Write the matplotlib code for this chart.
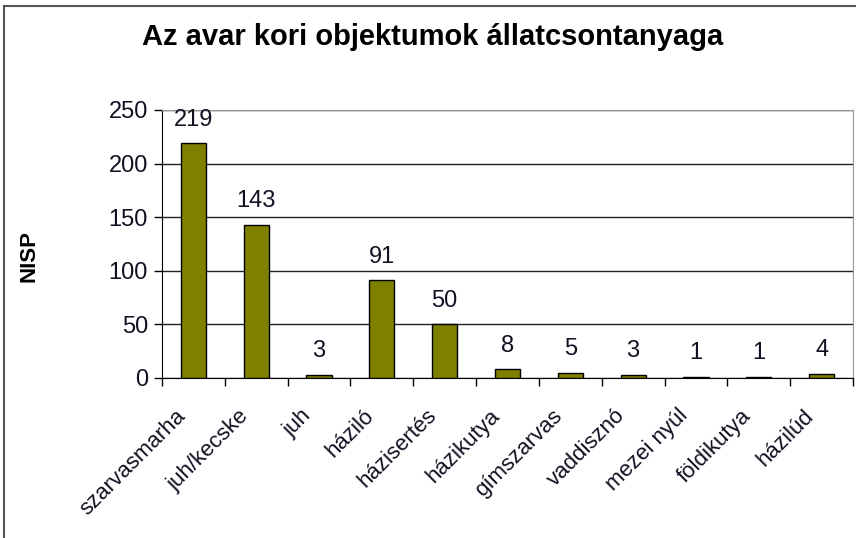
import matplotlib.pyplot as plt
import matplotlib.transforms as mtransforms
import numpy as np

plt.rcParams['font.family'] = ['Liberation Sans', 'DejaVu Sans']

species = ['szarvasmarha', 'juh/kecske', 'juh', 'háziló', 'házisertés',
           'házikutya', 'gímszarvas', 'vaddisznó', 'mezei nyúl',
           'földikutya', 'házilúd']
nisp = [219, 143, 3, 91, 50, 8, 5, 3, 1, 1, 4]
yticks = [0, 50, 100, 150, 200, 250]

fig = plt.figure(figsize=(8.56, 5.38), dpi=100)
ax = fig.add_axes([162 / 856, 1 - 378 / 538, 691 / 856, 268 / 538])

x = np.arange(len(species))
ax.bar(x, nisp, width=0.4, color='#808000', edgecolor='black', linewidth=1, zorder=3)

for xi, v in zip(x, nisp):
    ax.annotate(str(v), (xi, v), xytext=(0, 9), textcoords='offset points',
                ha='center', va='bottom', fontsize=17, color='#111122')

ax.set_xlim(-0.5, len(species) - 0.5)
ax.set_ylim(0, 250)
ax.set_yticks(yticks)
ax.yaxis.grid(True, color='#222222', linewidth=1, zorder=0)
ax.tick_params(axis='y', direction='out', length=6, width=1, pad=4,
               labelsize=17, labelcolor='#111122')

# tick marks between categories, labels at category centres
ax.set_xticks(np.arange(-0.5, len(species), 1))
ax.set_xticklabels([])
ax.set_xticks(x, minor=True)
ax.set_xticklabels(species, minor=True, rotation=45, ha='right', va='center',
                   rotation_mode='anchor', fontsize=16, color='#111122')
ax.tick_params(axis='x', which='major', direction='out', length=6, width=1)
ax.tick_params(axis='x', which='minor', length=0, pad=25)
shift = mtransforms.ScaledTranslation(-8 / 72, 0, fig.dpi_scale_trans)
for lbl in ax.get_xticklabels(minor=True):
    lbl.set_transform(lbl.get_transform() + shift)

for side in ['top', 'right']:
    ax.spines[side].set_color('#999999')
for side in ['left', 'bottom']:
    ax.spines[side].set_color('black')

ax.set_ylabel('NISP', fontsize=16, fontweight='bold')
ax.yaxis.set_label_coords(-0.178, 0.455)

fig.text(0.505, 0.932, 'Az avar kori objektumok állatcsontanyaga',
         ha='center', va='center', fontsize=21, fontweight='bold')

# outer chart frame
fig.add_artist(plt.Line2D([4 / 856, 4 / 856], [0, 1 - 6 / 538],
                          transform=fig.transFigure, color='#555555', linewidth=1.5))
fig.add_artist(plt.Line2D([4 / 856, 1], [1 - 6 / 538, 1 - 6 / 538],
                          transform=fig.transFigure, color='#555555', linewidth=1.5))

fig.savefig('out.png', dpi=100)
